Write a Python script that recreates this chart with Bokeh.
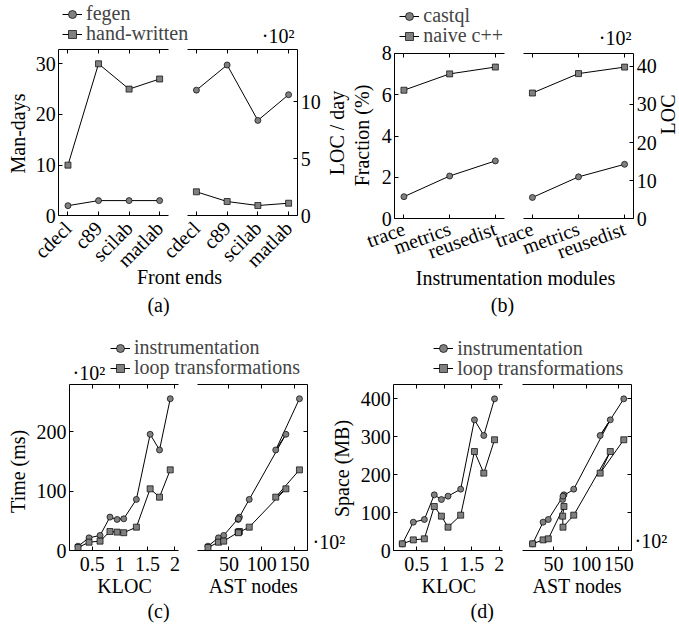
import math
from bokeh.plotting import figure
from bokeh.models import Range1d, LinearAxis, FixedTicker, Legend, LegendItem, Label
from bokeh.embed import file_html
from bokeh.resources import INLINE

# ---------------- data ----------------
front_ends = ["cdecl", "c89", "scilab", "matlab"]
fegen_man_days = [2, 3, 3, 3]
hand_man_days = [10, 30, 25, 27]
fegen_loc_per_day = [1100, 1320, 835, 1060]
hand_loc_per_day = [210, 125, 90, 110]

modules = ["trace", "metrics", "reusedist"]
castql_fraction = [1.07, 2.07, 2.8]
naive_fraction = [6.22, 7.01, 7.34]
castql_loc = [560, 1100, 1430]
naive_loc = [3300, 3810, 3980]

kloc = [0.24, 0.44, 0.64, 0.82, 0.95, 1.07, 1.30, 1.55, 1.72, 1.915]
ast_nodes = [1800, 3400, 4200, 6600, 6400, 6450, 8100, 13700, 12150, 15770]
time_instr = [730, 2140, 2540, 5630, 5240, 5350, 8620, 19600, 16960, 25600]
time_loop = [500, 1400, 1580, 3200, 3100, 3000, 3940, 10400, 9000, 13600]
space_instr = [17.6, 74.7, 81.8, 146.8, 134.5, 143.3, 161.8, 344.6, 303.3, 400]
space_loop = [17.6, 28, 30.8, 116, 90.5, 61.5, 93.2, 261, 204, 292]

man_days_ticks = [0, 10, 20, 30]
loc_day_ticks = [0, 500, 1000]
fraction_ticks = [0, 2, 4, 6, 8]
loc_ticks = [0, 1000, 2000, 3000, 4000]
kloc_ticks = [0.5, 1, 1.5, 2]
ast_ticks = [5000, 10000, 15000]
time_ticks = [0, 10000, 20000]
space_ticks = [0, 100, 200, 300, 400]

# ---------------- style ----------------
W, H = 678, 624          # canvas size; the page template puts it at (0, 0)
FONT = "Liberation Serif"
FS = "20px"
GRAY = "#808080"


def fmt(v):
    return f"{v:g}"


p = figure(width=W, height=H, output_backend="svg", toolbar_location=None,
           title=None, x_range=Range1d(0, W), y_range=Range1d(H, 0),
           x_axis_location=None, y_axis_location=None, min_border=0)
p.outline_line_color = None
p.background_fill_color = None
p.border_fill_color = None
p.xgrid.grid_line_color = None
p.ygrid.grid_line_color = None


def box(name, cx0, cx1, cy0, cy1, xd, yd):
    """Sub-plot box: pixel extents (cx0..cx1, cy0 top..cy1 bottom)
    hold data extents xd, yd; the ranges are stretched over the full canvas."""
    kx = (xd[1] - xd[0]) / (cx1 - cx0)
    ky = (yd[1] - yd[0]) / (cy1 - cy0)
    p.extra_x_ranges[name] = Range1d(xd[0] - cx0 * kx, xd[1] + (W - cx1) * kx)
    p.extra_y_ranges[name] = Range1d(yd[0] - (H - cy1) * ky, yd[1] + cy0 * ky)
    return dict(name=name, xd=xd, yd=yd)


def axis(b, side, ticks, labels=None, show=True, orientation=None, standoff=3):
    xd, yd = b["xd"], b["yd"]
    if side in ("below", "above"):
        fixed = yd[0] if side == "below" else yd[1]
        bounds = xd
    else:
        fixed = xd[0] if side == "left" else xd[1]
        bounds = yd
    ax = LinearAxis(x_range_name=b["name"], y_range_name=b["name"],
                    ticker=FixedTicker(ticks=ticks), fixed_location=fixed,
                    bounds=bounds)
    ax.axis_line_color = "black"
    ax.axis_line_width = 1
    ax.major_tick_in = 4
    ax.major_tick_out = 0
    ax.major_tick_line_color = "black"
    ax.major_tick_line_width = 1
    ax.minor_tick_line_color = None
    ax.major_label_text_font = FONT
    ax.major_label_text_font_size = FS
    ax.major_label_text_color = "black" if show else None
    ax.major_label_standoff = standoff
    if labels is not None:
        ax.major_label_overrides = {t: s for t, s in zip(ticks, labels)}
    if orientation is not None:
        ax.major_label_orientation = orientation
    p.add_layout(ax, side)
    return ax


def series(b, x, y, marker):
    l = p.line(x, y, line_color="black", line_width=1,
               x_range_name=b["name"], y_range_name=b["name"])
    s = p.scatter(x, y, marker=marker, size=6, fill_color=GRAY,
                  line_color="black", line_width=0.7,
                  x_range_name=b["name"], y_range_name=b["name"])
    return [l, s]


def legend(names, rends, x_left, y_first_center, row=20):
    # one legend per entry so that the rows sit exactly `row` px apart
    for i, (n, r) in enumerate(zip(names, rends)):
        cy = y_first_center + i * row
        lg = Legend(items=[LegendItem(label=n, renderers=r)],
                    location=(x_left, H - (cy + 10)), orientation="vertical",
                    padding=0, spacing=0, margin=0,
                    label_height=20, glyph_height=20, glyph_width=20, label_standoff=4,
                    label_text_font=FONT, label_text_font_size=FS,
                    label_text_baseline="middle",
                    border_line_color=None, background_fill_alpha=0)
        p.add_layout(lg, "center")


idx_fe = list(range(len(front_ends)))
idx_mod = list(range(len(modules)))
kloc_labels = [fmt(t) for t in kloc_ticks]
ast_labels = [fmt(t / 100) for t in ast_ticks]

# ---------------- (a) ----------------
aL = box("aL", 58.3, 168.3, 49.3, 215.3, (-0.3, 3.3), (0, 32.76))
axis(aL, "below", idx_fe, front_ends, orientation=math.pi / 4, standoff=9)
axis(aL, "above", idx_fe, show=False)
axis(aL, "left", man_days_ticks, [fmt(t) for t in man_days_ticks])
ra1 = series(aL, idx_fe, fegen_man_days, "circle")
ra2 = series(aL, idx_fe, hand_man_days, "square")
legend(["fegen", "hand-written"], [ra1, ra2], 62, 15)

aR = box("aR", 186.7, 297.3, 49.3, 215.3, (-0.3, 3.3), (0, 1453))
axis(aR, "below", idx_fe, front_ends, orientation=math.pi / 4, standoff=9)
axis(aR, "above", idx_fe, show=False)
axis(aR, "right", loc_day_ticks, [fmt(t / 100) for t in loc_day_ticks])
series(aR, idx_fe, fegen_loc_per_day, "circle")
series(aR, idx_fe, hand_loc_per_day, "square")

# ---------------- (b) ----------------
bL = box("bL", 394.3, 504, 52.5, 218.3, (-0.2, 2.2), (0, 8.02))
axis(bL, "below", idx_mod, modules, orientation=math.radians(20), standoff=9)
axis(bL, "above", idx_mod, show=False)
axis(bL, "left", fraction_ticks, [fmt(t) for t in fraction_ticks])
rb1 = series(bL, idx_mod, castql_fraction, "circle")
rb2 = series(bL, idx_mod, naive_fraction, "square")
legend(["castql", "naive c++"], [rb1, rb2], 399.3, 17.3)

bR = box("bR", 522.7, 633.3, 52.5, 218.3, (-0.2, 2.2), (0, 4350))
axis(bR, "below", idx_mod, modules, orientation=math.radians(20), standoff=9)
axis(bR, "above", idx_mod, show=False)
axis(bR, "right", loc_ticks, [fmt(t / 100) for t in loc_ticks])
series(bR, idx_mod, castql_loc, "circle")
series(bR, idx_mod, naive_loc, "square")

# ---------------- (c) ----------------
cL = box("cL", 69, 178, 384.3, 550, (0.085, 2.065), (0, 27950))
axis(cL, "below", kloc_ticks, kloc_labels, standoff=6)
axis(cL, "above", kloc_ticks, show=False)
axis(cL, "left", time_ticks, [fmt(t / 100) for t in time_ticks])
rc1 = series(cL, kloc, time_instr, "circle")
rc2 = series(cL, kloc, time_loop, "square")
legend(["instrumentation", "loop transformations"], [rc1, rc2], 110, 349)

cR = box("cR", 197, 307, 384.3, 550, (200, 17000), (0, 27950))
axis(cR, "below", ast_ticks, ast_labels, standoff=6)
axis(cR, "above", ast_ticks, show=False)
axis(cR, "right", time_ticks, show=False)
series(cR, ast_nodes, time_instr, "circle")
series(cR, ast_nodes, time_loop, "square")

# ---------------- (d) ----------------
dL = box("dL", 393.3, 502.3, 384.3, 550, (0.085, 2.065), (0, 437))
axis(dL, "below", kloc_ticks, kloc_labels, standoff=6)
axis(dL, "above", kloc_ticks, show=False)
axis(dL, "left", space_ticks, [fmt(t) for t in space_ticks])
rd1 = series(dL, kloc, space_instr, "circle")
rd2 = series(dL, kloc, space_loop, "square")
legend(["instrumentation", "loop transformations"], [rd1, rd2], 433.3, 349.5)

dR = box("dR", 521.7, 631.3, 384.3, 550, (200, 17000), (0, 437))
axis(dR, "below", ast_ticks, ast_labels, standoff=6)
axis(dR, "above", ast_ticks, show=False)
axis(dR, "right", space_ticks, show=False)
series(dR, ast_nodes, space_instr, "circle")
series(dR, ast_nodes, space_loop, "square")

# ---------------- texts (pixel positions on the page) ----------------
V = math.pi / 2
texts = [
    ("Man-days", 17, 133, V, "center"),
    ("LOC / day", 336.5, 132.5, V, "center"),
    ("Fraction (%)", 361.5, 135, V, "center"),
    ("LOC", 667.5, 114, V, "center"),
    ("\u00b710\u00b2", 294, 35, 0, "right"),
    ("\u00b710\u00b2", 631, 37.5, 0, "right"),
    ("Front ends", 179, 276, 0, "center"),
    ("(a)", 158, 304.5, 0, "center"),
    ("Instrumentation modules", 515, 277, 0, "center"),
    ("(b)", 502, 304, 0, "center"),
    ("Time (ms)", 17, 470.8, V, "center"),
    ("\u00b710\u00b2", 72, 372, 0, "left"),
    ("\u00b710\u00b2", 312, 541, 0, "left"),
    ("KLOC", 124, 585.5, 0, "center"),
    ("AST nodes", 253, 585.5, 0, "center"),
    ("(c)", 158, 610.5, 0, "center"),
    ("Space (MB)", 341, 468, V, "center"),
    ("\u00b710\u00b2", 634, 540, 0, "left"),
    ("KLOC", 448.3, 585.5, 0, "center"),
    ("AST nodes", 576.7, 585.5, 0, "center"),
    ("(d)", 481.7, 610.5, 0, "center"),
]
for t, x, y, ang, al in texts:
    p.add_layout(Label(x=x, y=y, text=t, angle=ang, text_align=al,
                       text_baseline="middle", text_font=FONT,
                       text_font_size=FS, text_color="black"))

open("out.html", "w").write(file_html(p, INLINE))
